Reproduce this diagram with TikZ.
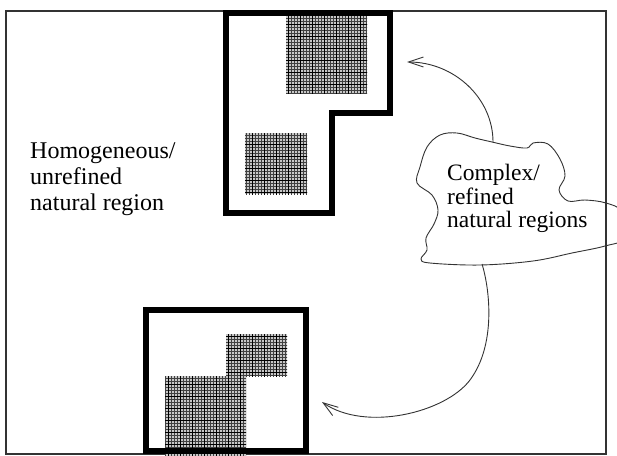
\documentclass[tikz,border=0pt]{standalone}
\usepackage{fontspec}
\setmainfont{Liberation Serif}
\usetikzlibrary{arrows.meta}
\begin{document}
\begin{tikzpicture}[x=1pt,y=-1pt,
  frameline/.style={line width=1.5pt,draw=black!80},
  heavy/.style={line width=6pt,draw=black,line join=miter},
  thin/.style={line width=0.9pt,draw=black!80},
  arrowline/.style={thin,-{Straight Barb[length=15pt,width=10pt,line width=0.9pt]}},
  label/.style={inner sep=0pt,align=left,font=\fontsize{24}{26}\selectfont,anchor=north west}]
\useasboundingbox (0,0) rectangle (617,455);
\clip (0,0) rectangle (617,455);
\fill[white] (0,0) rectangle (617,455);
% hatch macro
\newcommand{\hatchrect}[4]{%
  \fill[black!22] (#1,#2) rectangle (#3,#4);
  \begin{scope}
  \clip (#1,#2) rectangle (#3,#4);
  \draw[line width=0.75pt,black!75,xstep=3pt,ystep=3pt] (#1-3,#2-3) grid (#3+3,#4+3);
  \draw[line width=0.9pt,black,xstep=12pt,ystep=12pt] (#1-12,#2-12) grid (#3+12,#4+12);
  \end{scope}}
% outer frame
\draw[frameline] (6,11) rectangle (606,454);
% upper L-shaped region
\hatchrect{286}{16}{367}{93}
\hatchrect{245}{133}{307}{194}
\draw[heavy] (226,13) -- (390,13) -- (390,113) -- (332,113) -- (332,213) -- (226,213) -- cycle;
% lower region
\hatchrect{226}{334}{287}{376}
\hatchrect{165}{376}{246}{456}
\draw[heavy] (146,310) -- (306,310) -- (306,451) -- (146,451) -- cycle;
% labels
\node[label] (homog) at (30,142) {Homogeneous/\\unrefined\\natural region};
% cloud
\draw[thin] plot[smooth cycle,tension=0.6] coordinates {
 (427,147) (440,135) (457,133) (475,138) (492,142) (510,146) (527,148)
 (533,143) (548,144) (560,159) (565,176) (559,190) (568,201) (585,200)
 (606,203) (622,212) (624,238) (605,246) (572,253) (533,261) (480,265)
 (430,263) (421,259) (427,250) (426,238) (434,224) (438,210) (432,195)
 (417,183) (420,167)};
\node[label,font=\fontsize{23.5}{23.5}\selectfont] (complex) at (447,164) {Complex/\\refined\\natural regions};
% connectors
\coordinate (ctop) at (493,142);
\coordinate (cbot) at (482,264);
\coordinate (tipA) at (407,62);
\coordinate (tipB) at (322,402);
\draw[arrowline] (ctop) .. controls (493,98) and (454,62) .. (tipA);
\draw[arrowline] (cbot) .. controls (490,290) and (496,345) .. (470,380)
   .. controls (445,413) and (365,432) .. (tipB);
\end{tikzpicture}
\end{document}
